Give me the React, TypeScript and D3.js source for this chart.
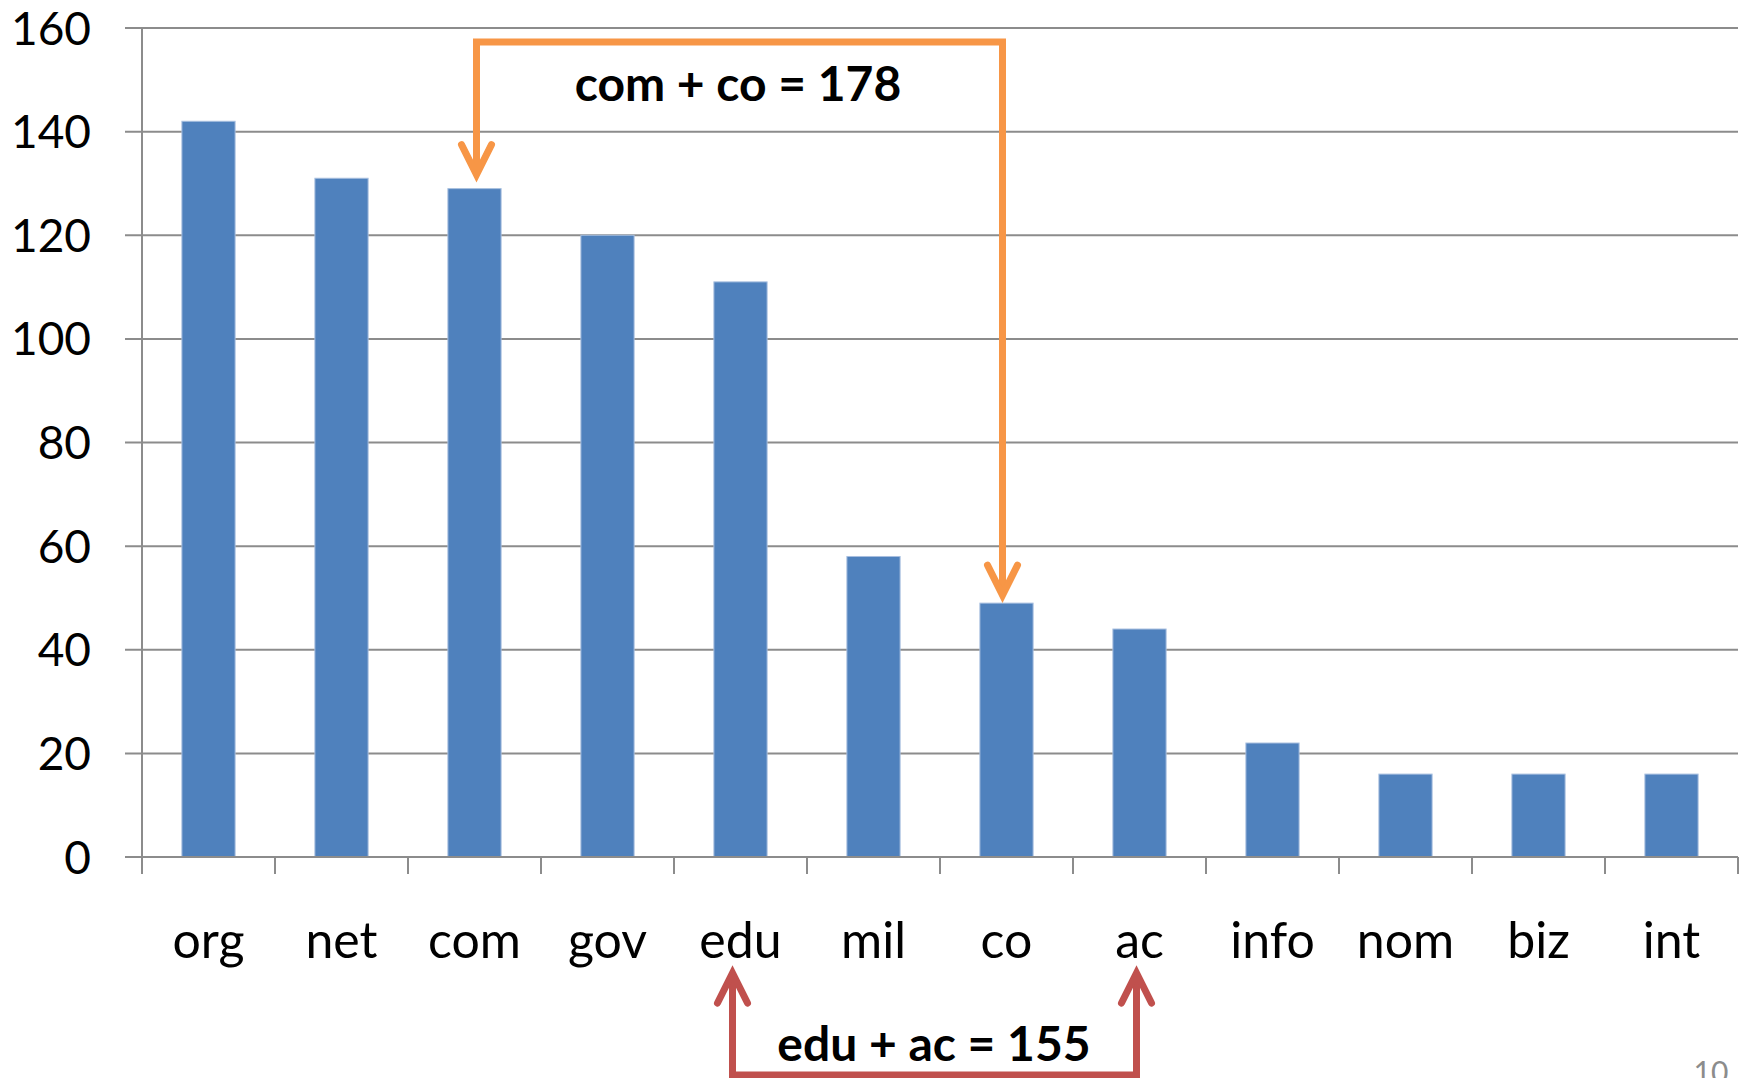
import React from "react";
import * as d3 from "d3";

const categories = ["org", "net", "com", "gov", "edu", "mil", "co", "ac", "info", "nom", "biz", "int"];
const values = [142, 131, 129, 120, 111, 58, 49, 44, 22, 16, 16, 16];
const yTicks = [0, 20, 40, 60, 80, 100, 120, 140, 160];
const topNote = { from: "com", to: "co", label: "com + co = 178" };
const bottomNote = { from: "edu", to: "ac", label: "edu + ac = 155" };

const W = 1746;
const H = 1078;
const left = 142;
const right = 1738;
const top = 28;
const bottom = 857;

export default function App() {
  const x = d3.scaleBand<string>().domain(categories).range([left, right]).paddingInner(0.6).paddingOuter(0.3);
  const y = d3.scaleLinear().domain([0, 160]).range([bottom, top]);
  const step = x.step();
  const bw = x.bandwidth();
  const cx = (c: string) => (x(c) as number) + bw / 2;
  const val = (c: string) => values[categories.indexOf(c)];

  const font = "Lato, 'Noto Sans', sans-serif";
  const orange = "#F79646";
  const red = "#C0504D";
  const grid = "#8c8c8c";

  // top annotation
  const ax1 = cx(topNote.from) + 2;
  const ax2 = cx(topNote.to) - 4;
  const aTop = y(157.3);
  const tip1 = y(val(topNote.from)) - 14;
  const tip2 = y(val(topNote.to)) - 8;
  // bottom annotation
  const bx1 = cx(bottomNote.from) - 8;
  const bx2 = cx(bottomNote.to) - 3;
  const bTip = 973;
  const bBase = 1075;

  const head = (px: number, py: number, dir: number) =>
    `M${px - 15},${py - 30 * dir} L${px},${py} L${px + 15},${py - 30 * dir}`;

  const boundaries = d3.range(categories.length + 1).map((i) => left + i * step);

  return (
    <svg width={W} height={H} style={{ position: "absolute", left: 0, top: 0, background: "#fff" }}>
      <rect x={0} y={0} width={W} height={H} fill="#fff" />
      {yTicks.map((t) => (
        <line key={t} x1={125} x2={right} y1={y(t)} y2={y(t)} stroke={grid} strokeWidth={2} />
      ))}
      <line x1={left} x2={left} y1={top} y2={bottom + 17} stroke={grid} strokeWidth={2} />
      {boundaries.map((bx, i) => (
        <line key={i} x1={bx} x2={bx} y1={bottom} y2={bottom + 17} stroke={grid} strokeWidth={2} />
      ))}
      {categories.map((c, i) => (
        <rect key={c} x={x(c)} y={y(values[i])} width={bw} height={bottom - y(values[i])} fill="#4F81BD" stroke="#a7bfdf" strokeWidth={1} />
      ))}
      <line x1={125} x2={right} y1={bottom} y2={bottom} stroke={grid} strokeWidth={2} />
      {yTicks.map((t) => (
        <text key={t} x={91} y={y(t)} dy="0.36em" textAnchor="end" fontFamily={font} fontSize={46} fill="#000">
          {t}
        </text>
      ))}
      {categories.map((c) => (
        <text key={c} x={cx(c)} y={958} textAnchor="middle" fontFamily={font} fontSize={50} fill="#000">
          {c}
        </text>
      ))}
      <g fill="none" stroke={orange} strokeWidth={7}>
        <path d={`M${ax1},${tip1} L${ax1},${aTop} L${ax2},${aTop} L${ax2},${tip2}`} strokeLinejoin="miter" />
        <path d={head(ax1, tip1, 1)} strokeLinecap="round" strokeLinejoin="miter" />
        <path d={head(ax2, tip2, 1)} strokeLinecap="round" strokeLinejoin="miter" />
      </g>
      <g fill="none" stroke={red} strokeWidth={7}>
        <path d={`M${bx1},${bTip} L${bx1},${bBase} L${bx2},${bBase} L${bx2},${bTip}`} strokeLinejoin="miter" />
        <path d={head(bx1, bTip, -1)} strokeLinecap="round" strokeLinejoin="miter" />
        <path d={head(bx2, bTip, -1)} strokeLinecap="round" strokeLinejoin="miter" />
      </g>
      <text x={738} y={101} textAnchor="middle" fontFamily={font} fontWeight="bold" fontSize={48} fill="#000">
        {topNote.label}
      </text>
      <text x={934} y={1061} textAnchor="middle" fontFamily={font} fontWeight="bold" fontSize={48} fill="#000">
        {bottomNote.label}
      </text>
      <text x={1711} y={1083} textAnchor="middle" fontFamily={font} fontSize={30} fill="#8c8c8c">
        10
      </text>
    </svg>
  );
}
